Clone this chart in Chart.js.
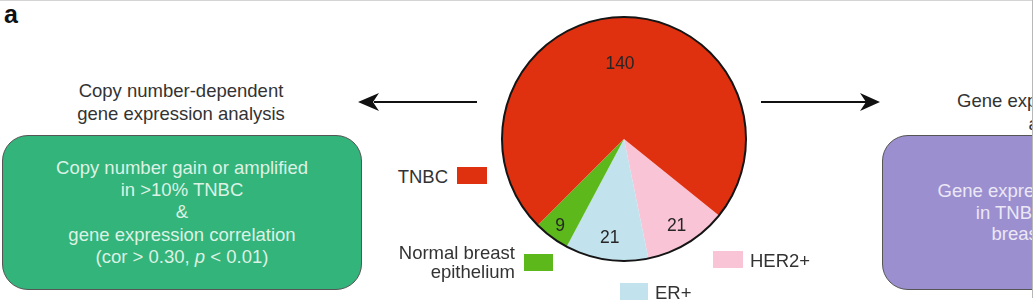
<!DOCTYPE html>
<html>
<head>
<meta charset="utf-8">
<script src="https://cdn.jsdelivr.net/npm/chart.js@4.4.1/dist/chart.umd.min.js"></script>
<style>
  body { margin: 0; background: #fff; }
  #fig {
    position: relative; width: 1032px; height: 304px; overflow: hidden;
    font-family: "Liberation Sans", Arial, Helvetica, sans-serif; color: #333;
    border-top: 1px solid #d4d4d4; box-sizing: border-box;
  }
  #edge { position: absolute; left: 1032px; top: 0; width: 1px; height: 298px; background: #b8b8b8; }
  .abs { position: absolute; }
  .panel { left: 4px; top: -1px; font-size: 25px; font-weight: bold; color: #111; }
  .head { width: 360px; text-align: center; font-size: 18.5px; line-height: 23px; color: #333; }
  .box {
    box-sizing: border-box; width: 360px; height: 155px; top: 134px;
    border: 1.5px solid #555; border-radius: 26px;
    display: flex; align-items: center; justify-content: center;
    text-align: center; font-size: 18.5px;
  }
  .green { left: 2px; background: #33b47b; color: #dcf2e4; line-height: 22.3px; }
  .purple { left: 882px; background: #9c8fd0; color: #ebe8f6; line-height: 21.6px; }
  .lg-box { position: absolute; }
  .lg-text { position: absolute; font-size: 18.5px; line-height: 19px; color: #333; white-space: nowrap; }
  #pie { position: absolute; left: 500px; top: 14px; }
</style>
</head>
<body>
<div id="fig">
  <div class="abs panel">a</div>

  <div class="abs head" style="left:1px; top:77.5px;">Copy number-dependent<br>gene expression analysis</div>
  <div class="abs head" style="left:882px; top:87.5px;">Gene expression profiling<br>analysis</div>

  <div class="abs box green">
    <div>Copy number gain or amplified<br>in &gt;10% TNBC<br>&amp;<br>gene expression correlation<br>(cor &gt; 0.30, <i>p</i> &lt; 0.01)</div>
  </div>
  <div class="abs box purple">
    <div>Gene expression up-regulated<br>in TNBC than normal<br>breast epithelium</div>
  </div>

  <svg class="abs" style="left:0;top:0" width="1032" height="304">
    <line x1="374" y1="101" x2="477" y2="101" stroke="#111" stroke-width="2.2"/>
    <polygon points="358,101 379,92 373,101 379,110" fill="#111"/>
    <line x1="761" y1="101" x2="866" y2="101" stroke="#111" stroke-width="2.2"/>
    <polygon points="880,101 860,92 866,101 860,110" fill="#111"/>
  </svg>

  <canvas id="pie" width="248" height="248"></canvas>
  <div id="legend"></div>
</div>
<div id="edge"></div>

<script>
// sample groups, listed clockwise starting from the HER2+ slice
const categories = ['HER2+', 'ER+', 'Normal breast epithelium', 'TNBC'];
const sampleCounts = [21, 21, 9, 140];
const sliceColors = ['#f9c5d6', '#c2e2ed', '#5db81b', '#df310f'];
// where each slice's number sits, as a fraction of the radius
const labelRadius = [0.83, 0.81, 0.88, 0.62];

// legend placement around the pie
const legendSpots = {
  'TNBC':                     { box: [457, 166, 30, 17], text: [448, 166], align: 'right', lines: ['TNBC'] },
  'Normal breast epithelium': { box: [524, 253, 29, 17], text: [515, 242], align: 'right', lines: ['Normal breast', 'epithelium'] },
  'ER+':                      { box: [620, 282, 28, 17], text: [655, 282], align: 'left',  lines: ['ER+'] },
  'HER2+':                    { box: [713, 250, 30, 17], text: [750, 250], align: 'left',  lines: ['HER2+'] }
};

const pieDecor = {
  id: 'pieDecor',
  afterDatasetsDraw(chart) {
    const ctx = chart.ctx;
    const arcs = chart.getDatasetMeta(0).data;
    const cx = arcs[0].x, cy = arcs[0].y, r = arcs[0].outerRadius;

    ctx.save();
    ctx.beginPath();
    ctx.arc(cx, cy, r, 0, Math.PI * 2);
    ctx.lineWidth = 2;
    ctx.strokeStyle = '#151515';
    ctx.stroke();

    ctx.font = '17.5px "Liberation Sans", Arial, sans-serif';
    ctx.fillStyle = '#262626';
    ctx.textAlign = 'center';
    ctx.textBaseline = 'middle';
    arcs.forEach((arc, i) => {
      const mid = (arc.startAngle + arc.endAngle) / 2;
      const d = r * labelRadius[i];
      ctx.fillText(String(sampleCounts[i]), cx + Math.cos(mid) * d, cy + Math.sin(mid) * d + 1);
    });
    ctx.restore();
  }
};

new Chart(document.getElementById('pie'), {
  type: 'pie',
  data: {
    labels: categories,
    datasets: [{
      data: sampleCounts,
      backgroundColor: sliceColors,
      borderWidth: 0
    }]
  },
  options: {
    responsive: false,
    animation: false,
    devicePixelRatio: 1,
    rotation: 128.9,
    layout: { padding: 2 },
    plugins: {
      legend: { display: false },
      tooltip: { enabled: false }
    }
  },
  plugins: [pieDecor]
});

// legend swatches placed around the pie
const legend = document.getElementById('legend');
categories.forEach((name, i) => {
  const spot = legendSpots[name];
  const sw = document.createElement('div');
  sw.className = 'lg-box';
  sw.style.left = spot.box[0] + 'px';
  sw.style.top = spot.box[1] + 'px';
  sw.style.width = spot.box[2] + 'px';
  sw.style.height = spot.box[3] + 'px';
  sw.style.background = sliceColors[i];
  legend.appendChild(sw);

  const t = document.createElement('div');
  t.className = 'lg-text';
  t.style.top = spot.text[1] + 'px';
  t.style.textAlign = spot.align;
  if (spot.align === 'right') t.style.right = (1032 - spot.text[0]) + 'px';
  else t.style.left = spot.text[0] + 'px';
  t.innerHTML = spot.lines.join('<br>');
  legend.appendChild(t);
});
</script>
</body>
</html>
